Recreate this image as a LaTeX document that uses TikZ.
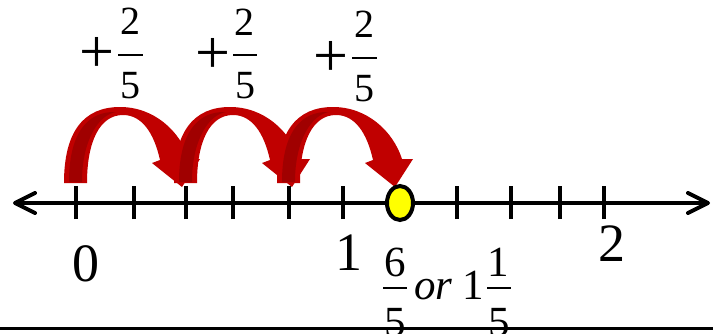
\documentclass[tikz,border=0pt]{standalone}
\usepackage{fontspec}
\setmainfont{Liberation Serif}
\usetikzlibrary{arrows.meta, shapes.geometric}
\definecolor{arcred}{RGB}{192,0,0}
\definecolor{arcdark}{RGB}{160,0,0}
\definecolor{dotyellow}{RGB}{255,255,0}

\tikzset{
  jump/.pic={
    % front ribbon with head
    \fill[arcred] (-12,20) .. controls (-12,72) and (8,96) .. (44,96)
      .. controls (78,96) and (104,72) .. (113,44) -- (124,44) -- (106,16)
      -- (76,40) -- (84,43) .. controls (78,70) and (66,88) .. (47,88)
      .. controls (24,88) and (11,62) .. (11,20) -- cycle;
    % dark underside of the left leg
    \fill[arcdark] (-7,21) .. controls (-7,68) and (10,92) .. (40,91)
      .. controls (22,88) and (6,62) .. (6,21) -- cycle;
  }
}

\begin{document}
\begin{tikzpicture}[x=0.5pt, y=0.5pt,
    numline/.style={line width=2pt, arrows={Straight Barb[length=10pt,width=10pt,round]-Straight Barb[length=10pt,width=10pt,round]}},
    tickmark/.style={line width=2pt},
    fracbar/.style={line width=1pt},
    bignum/.style={inner sep=0pt, font=\fontsize{27}{30}\selectfont},
    topfrac/.style={inner sep=0pt, font=\fontsize{20}{24}\selectfont},
    plussign/.style={inner sep=0pt, font=\fontsize{31}{34}\selectfont},
    botfrac/.style={inner sep=0pt, font=\fontsize{21.5}{26}\selectfont}]
  % Page frame
  \useasboundingbox (0,-130) rectangle (713,203);
  \clip (0,-130) rectangle (713,203);

  % Rule at the bottom
  \draw[line width=1.5pt] (0,-125) -- (713,-125);

  % Jumps of 2/5
  \pic at (76,0) {jump};
  \pic at (186,0) {jump};
  \pic at (289,0) {jump};

  % Number line with fifths
  \coordinate (west) at (13,0);
  \coordinate (east) at (710,0);
  \draw[numline] (west) -- (east);
  \foreach \x in {76,134,186,233,289,343,400,457,511,560,604}
    \draw[tickmark] (\x,-16) -- (\x,17);

  % Landing point
  \node[ellipse, draw, line width=2pt, fill=dotyellow, inner sep=0pt,
        minimum width=13pt, minimum height=17pt] (dot) at (400,0) {};

  % Whole numbers
  \node[bignum] (zero) at (85.5,-60.5) {0};
  \node[bignum] (one) at (348.5,-49.5) {1};
  \node[bignum] (two) at (611.5,-40.5) {2};

  % Jump labels
  \node[plussign] (plusA) at (97,148.5) {+};
  \node[topfrac] (numA) at (130,181.5) {2};
  \draw[fracbar] (118,148) -- (143,148);
  \node[topfrac] (denA) at (130,117) {5};

  \node[plussign] (plusB) at (212.5,147.5) {+};
  \node[topfrac] (numB) at (244.5,180.5) {2};
  \draw[fracbar] (233,148) -- (257,148);
  \node[topfrac] (denB) at (245,117) {5};

  \node[plussign] (plusC) at (331,144.5) {+};
  \node[topfrac] (numC) at (364.5,178.5) {2};
  \draw[fracbar] (352,145) -- (377,145);
  \node[topfrac] (denC) at (364.5,114) {5};

  % Result
  \node[botfrac] (six) at (395,-59.5) {6};
  \draw[fracbar] (383,-85) -- (407,-85);
  \node[botfrac] (fiveA) at (395,-119.5) {5};
  \node[botfrac, font=\fontsize{21.5}{26}\selectfont\itshape] (orword) at (433.5,-87) {or};
  \node[botfrac] (whole) at (473.5,-82) {1};
  \node[botfrac] (numD) at (498.5,-59.5) {1};
  \draw[fracbar] (487,-85) -- (511,-85);
  \node[botfrac] (fiveB) at (499.5,-119.5) {5};
\end{tikzpicture}
\end{document}
